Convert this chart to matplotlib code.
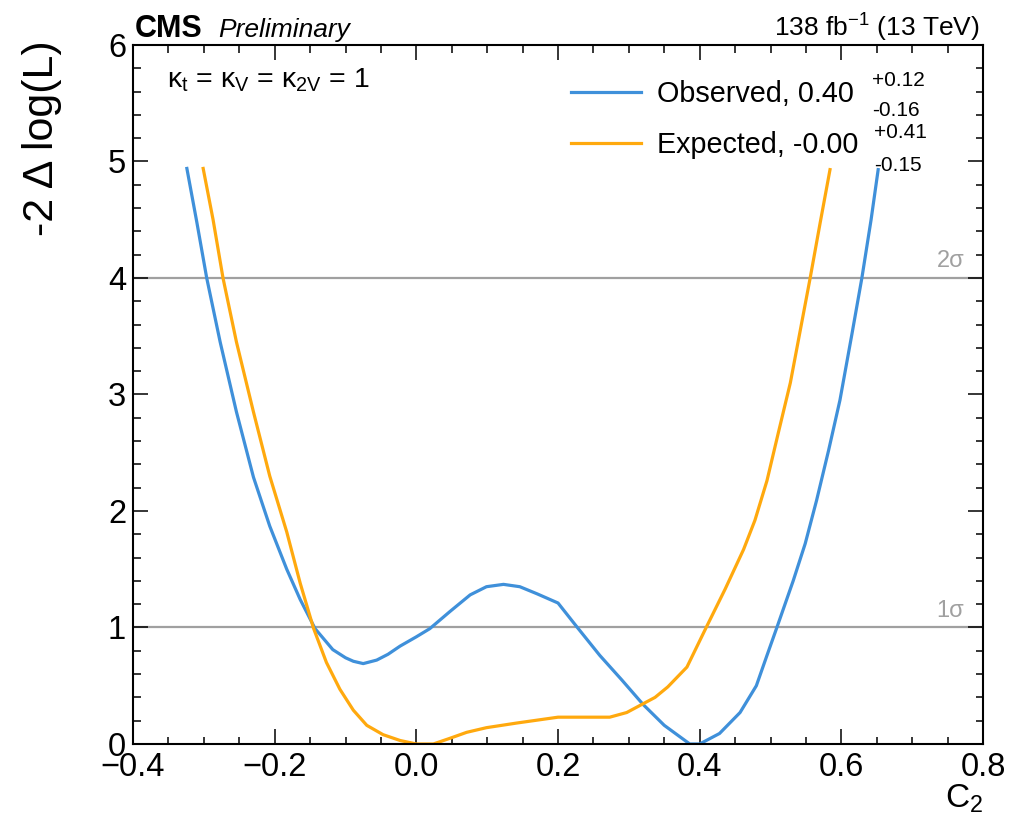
import matplotlib
matplotlib.use("agg")
import matplotlib.pyplot as plt
from matplotlib.ticker import MultipleLocator
import matplotlib.transforms as mtransforms

plt.rcParams['font.family'] = ['Liberation Sans', 'DejaVu Sans']
plt.rcParams['mathtext.fontset'] = 'custom'
plt.rcParams['mathtext.rm'] = 'Liberation Sans'
plt.rcParams['mathtext.it'] = 'Liberation Sans:italic'
plt.rcParams['mathtext.bf'] = 'Liberation Sans:bold'

# likelihood scan values
obs_c2 = [-0.324, -0.310, -0.296, -0.277, -0.254, -0.230, -0.207, -0.183, -0.164, -0.143,
          -0.118, -0.100, -0.089, -0.075, -0.056, -0.040, -0.023, 0.000, 0.019, 0.048,
          0.076, 0.099, 0.123, 0.146, 0.170, 0.200, 0.226, 0.259, 0.290, 0.320,
          0.350, 0.386, 0.400, 0.428, 0.457, 0.480, 0.495, 0.509, 0.532, 0.549,
          0.565, 0.582, 0.598, 0.615, 0.629, 0.642, 0.652]
obs_nll = [4.94, 4.48, 4.00, 3.45, 2.85, 2.29, 1.87, 1.50, 1.24, 0.99,
           0.81, 0.74, 0.71, 0.69, 0.72, 0.77, 0.84, 0.92, 0.99, 1.14,
           1.28, 1.35, 1.37, 1.35, 1.29, 1.21, 1.01, 0.76, 0.55, 0.34,
           0.16, 0.00, 0.00, 0.09, 0.27, 0.50, 0.76, 1.00, 1.40, 1.72,
           2.09, 2.52, 2.95, 3.52, 4.00, 4.50, 4.93]

exp_c2 = [-0.301, -0.287, -0.273, -0.254, -0.230, -0.207, -0.183, -0.164, -0.145, -0.127,
          -0.108, -0.089, -0.070, -0.047, -0.023, 0.000, 0.024, 0.048, 0.071, 0.099,
          0.142, 0.200, 0.273, 0.297, 0.337, 0.355, 0.382, 0.410, 0.436, 0.462,
          0.478, 0.495, 0.511, 0.528, 0.542, 0.556, 0.570, 0.584]
exp_nll = [4.94, 4.50, 4.00, 3.45, 2.85, 2.30, 1.82, 1.38, 0.99, 0.70,
           0.47, 0.29, 0.16, 0.08, 0.03, 0.00, 0.00, 0.05, 0.10, 0.14,
           0.18, 0.23, 0.23, 0.27, 0.40, 0.49, 0.66, 1.01, 1.33, 1.67,
           1.92, 2.26, 2.67, 3.10, 3.55, 4.00, 4.47, 4.93]

sigma_levels = [1, 4]
sigma_labels = ['1σ', '2σ']

obs_label = 'Observed, 0.40'
obs_unc = ['+0.12', '-0.16']
exp_label = 'Expected, -0.00'
exp_unc = ['+0.41', '-0.15']

blue = '#3f90da'
orange = '#ffa90e'

fig = plt.figure(figsize=(10.11, 8.19), dpi=100)
ax = fig.add_axes([0.1316, 0.0916, 0.8407, 0.8535])

trans = mtransforms.blended_transform_factory(ax.transAxes, ax.transData)
for lev, lab in zip(sigma_levels, sigma_labels):
    ax.axhline(lev, color='#a0a0a0', lw=1.6, zorder=1)
    ax.text(0.978, lev + 0.05, lab, transform=trans, ha='right', va='bottom',
            fontsize=17, color='#a0a0a0')

l1, = ax.plot(obs_c2, obs_nll, color=blue, lw=2.3, zorder=3)
l2, = ax.plot(exp_c2, exp_nll, color=orange, lw=2.3, zorder=3)

ax.set_xlim(-0.4, 0.8)
ax.set_ylim(0, 6)

ax.xaxis.set_major_locator(MultipleLocator(0.2))
ax.xaxis.set_minor_locator(MultipleLocator(0.05))
ax.yaxis.set_major_locator(MultipleLocator(1))
ax.yaxis.set_minor_locator(MultipleLocator(0.2))
ax.tick_params(which='both', direction='in', top=True, right=True, width=1.1)
ax.tick_params(which='major', length=10.8, labelsize=23.5)
ax.tick_params(which='minor', length=5.4)
ax.tick_params(axis='x', pad=6)
ax.tick_params(axis='y', pad=5)
for s in ax.spines.values():
    s.set_linewidth(1.5)
    s.set_zorder(4)

ax.set_ylabel('-2 Δ log(L)', fontsize=31, loc='top')
ax.yaxis.set_label_coords(-0.0835, 1.007)
ax.set_xlabel('C$_2$', fontsize=24, loc='right')
ax.xaxis.set_label_coords(1.0, -0.055)

ax.text(0.002, 1.0114, 'CMS', transform=ax.transAxes, fontsize=22,
        fontweight='bold', va='baseline', ha='left')
ax.text(0.1, 1.0114, 'Preliminary', transform=ax.transAxes, fontsize=19,
        style='italic', va='baseline', ha='left')
ax.text(0.9965, 1.0114, '138 fb$^{-1}$ (13 TeV)', transform=ax.transAxes,
        fontsize=19, va='baseline', ha='right')

ax.text(0.04, 0.9385, 'κ$_\\mathrm{t}$ = κ$_\\mathrm{V}$ = κ$_\\mathrm{2V}$ = 1',
        transform=ax.transAxes, fontsize=20.5, va='baseline', ha='left')

ax.legend([l1, l2], [obs_label, exp_label], loc='upper left',
          bbox_to_anchor=(0.5153, 0.950), frameon=False, fontsize=20.7,
          handlelength=2.45, handletextpad=0.55, labelspacing=0.8,
          borderpad=0, borderaxespad=0)

ax.text(0.869, 0.9485, obs_unc[0], transform=ax.transAxes, fontsize=15, va='center')
ax.text(0.869, 0.906, obs_unc[1], transform=ax.transAxes, fontsize=15, va='center')
ax.text(0.872, 0.875, exp_unc[0], transform=ax.transAxes, fontsize=15, va='center')
ax.text(0.872, 0.828, exp_unc[1], transform=ax.transAxes, fontsize=15, va='center')

plt.savefig('out.png', dpi=100)
plt.close()
